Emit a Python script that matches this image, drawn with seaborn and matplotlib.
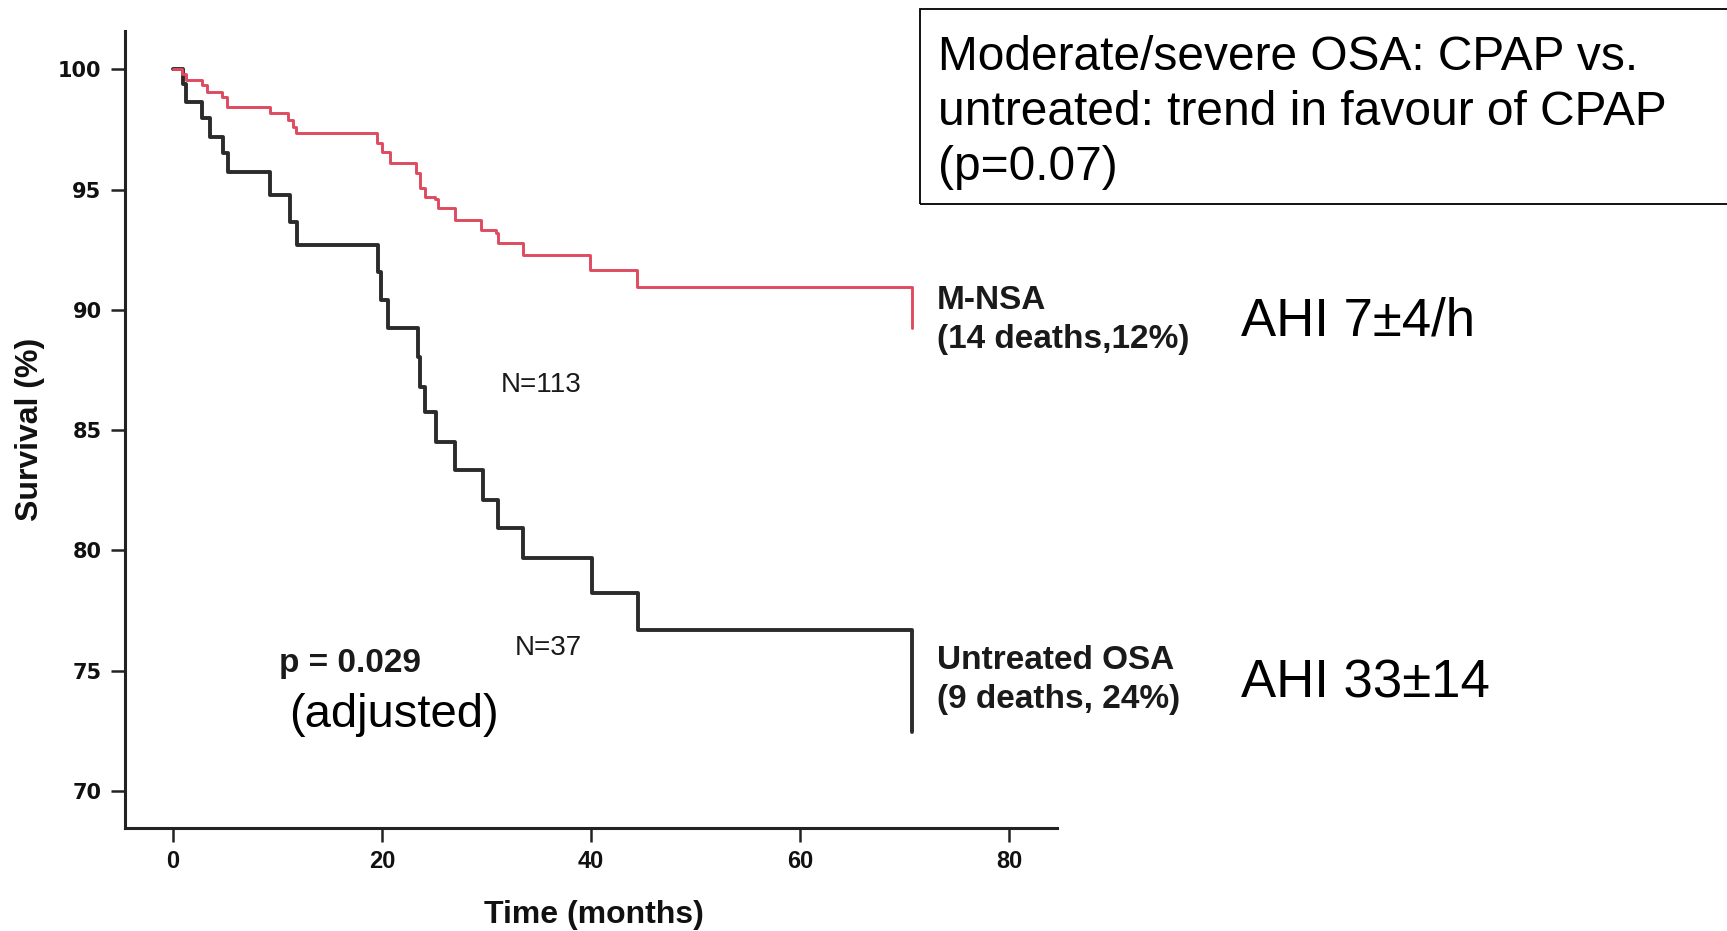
import matplotlib
matplotlib.use("Agg")
import matplotlib.pyplot as plt
import seaborn as sns
import pandas as pd
from matplotlib.patches import Rectangle

# ---- data ----
mnsa_times = [0, 0.9, 1.3, 2.8, 3.3, 4.7, 5.15, 9.3, 11.0, 11.5, 11.8, 19.5, 20.0, 20.8,
              23.3, 23.6, 24.1, 25.1, 25.4, 27.0, 29.5, 30.9, 31.1, 33.5, 39.9, 44.4, 70.7]
mnsa_surv = [100, 99.8, 99.56, 99.35, 99.07, 98.86, 98.45, 98.17, 97.9, 97.6, 97.34, 96.93, 96.58, 96.1,
             95.68, 95.06, 94.71, 94.6, 94.22, 93.74, 93.32, 93.18, 92.77, 92.28, 91.66, 90.97, 89.23]

osa_times = [0, 1.0, 1.3, 2.8, 3.55, 4.8, 5.3, 9.3, 11.2, 11.85, 19.65, 19.9, 20.6,
             23.5, 23.6, 24.1, 25.2, 27.0, 29.7, 31.1, 33.5, 40.1, 44.5, 70.7]
osa_surv = [100, 99.4, 98.66, 97.97, 97.2, 96.51, 95.75, 94.78, 93.67, 92.7, 91.59, 90.41, 89.24,
            88.05, 86.8, 85.75, 84.52, 83.34, 82.1, 80.92, 79.67, 78.22, 76.69, 72.46]

xticks = [0, 20, 40, 60, 80]
yticks = [70, 75, 80, 85, 90, 95, 100]

sns.set_theme(style="ticks")
plt.rcParams['font.family'] = ['Liberation Sans', 'DejaVu Sans']

W, H = 1727, 931
fig = plt.figure(figsize=(W / 100, H / 100), dpi=100)
fig.patch.set_facecolor('white')
ax = fig.add_axes([124.5 / W, 1 - 828 / H, 932.5 / W, 797 / H])
ax.set_facecolor('white')

df_osa = pd.DataFrame({'time': osa_times, 'survival': osa_surv})
df_mnsa = pd.DataFrame({'time': mnsa_times, 'survival': mnsa_surv})

sns.lineplot(data=df_osa, x='time', y='survival', estimator=None, sort=False,
             drawstyle='steps-post', color='#2b2b2b', linewidth=2.8, ax=ax)
sns.lineplot(data=df_mnsa, x='time', y='survival', estimator=None, sort=False,
             drawstyle='steps-post', color='#de4a5e', linewidth=2.1, ax=ax)

ax.set_xlim(-4.63, 84.6)
ax.set_ylim(68.46, 101.6)
ax.set_xticks(xticks, labels=[str(v) for v in xticks], fontsize=17, fontweight='bold',
              family='Liberation Sans', color='#111111')
ax.set_yticks(yticks, labels=[str(v) for v in yticks], fontsize=15, fontweight='bold',
              family='DejaVu Sans', color='#111111')
for s in ['top', 'right']:
    ax.spines[s].set_visible(False)
for s in ['left', 'bottom']:
    ax.spines[s].set_linewidth(2.2)
    ax.spines[s].set_color('#222222')
ax.tick_params(axis='y', direction='out', length=10, width=1.8, color='#222222', pad=6.5)
ax.tick_params(axis='x', direction='out', length=10, width=1.8, color='#222222', pad=6)

ax.set_xlabel('Time (months)', fontsize=23, fontweight='bold', color='#111111')
ax.set_ylabel('Survival (%)', fontsize=23, fontweight='bold', color='#111111')
ax.xaxis.set_label_coords(0.5035, -0.0903)
ax.yaxis.set_label_coords(-0.085, 0.5)

# in-plot annotations
ax.text(73.1, 90.06, 'M-NSA', fontsize=24, fontweight='bold', va='baseline', color='#1a1a1a')
ax.text(73.1, 88.42, '(14 deaths,12%)', fontsize=24, fontweight='bold', va='baseline', color='#1a1a1a')
ax.text(73.1, 75.09, 'Untreated OSA', fontsize=24, fontweight='bold', va='baseline', color='#1a1a1a')
ax.text(73.1, 73.45, '(9 deaths, 24%)', fontsize=24, fontweight='bold', va='baseline', color='#1a1a1a')
ax.text(31.4, 86.59, 'N=113', fontsize=20, va='baseline', color='#1a1a1a')
ax.text(32.7, 75.65, 'N=37', fontsize=20, va='baseline', color='#1a1a1a')
ax.text(10.15, 74.94, 'p = 0.029', fontsize=24, fontweight='bold', va='baseline', color='#1a1a1a')
ax.text(11.1, 72.66, '(adjusted)', fontsize=34, va='baseline', color='black')

# figure-level annotations
fig.text(1241 / W, 1 - 336 / H, 'AHI 7±4/h', fontsize=38, va='baseline', color='black')
fig.text(1241 / W, 1 - 698 / H, 'AHI 33±14', fontsize=38, va='baseline', color='black')

box = Rectangle((920 / W, 1 - 204 / H), 1.0, (204 - 9) / H, transform=fig.transFigure,
                fill=False, edgecolor='black', linewidth=1.3)
fig.add_artist(box)
box_lines = ['Moderate/severe OSA: CPAP vs.', 'untreated: trend in favour of CPAP', '(p=0.07)']
for i, line in enumerate(box_lines):
    fig.text(938 / W, 1 - (70.5 + 54.5 * i) / H, line, fontsize=34.5, va='baseline', color='black')

fig.savefig('out.png', dpi=100)
